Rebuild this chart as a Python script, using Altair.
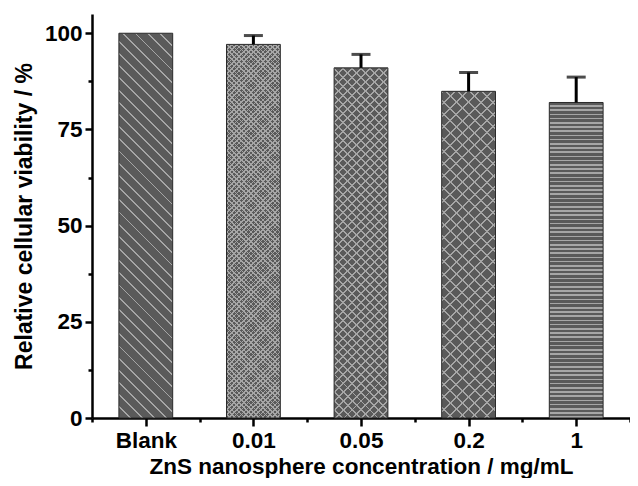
import math
import altair as alt
import pandas as pd

# ---- data ----
categories = ["Blank", "0.01", "0.05", "0.2", "1"]
viability = [100.0, 97.1, 91.0, 84.9, 82.0]
errors = [0.0, 2.3, 3.5, 4.9, 6.6]

# ---- layout / style ----
W, H = 538, 404
Y_MAX = 105
BAR_HALF = 0.25
BASE = "#5a5a5a"
LINE = "#a6a6a6"
CLEAR = "rgba(0,0,0,0)"
FONT = "Liberation Sans"

bar_w = 2 * BAR_HALF * W / len(categories)

df = pd.DataFrame({
    "cat": categories,
    "idx": list(range(1, len(categories) + 1)),
    "val": viability,
    "err": errors,
})
df["lo"] = df["idx"] - BAR_HALF
df["hi"] = df["idx"] + BAR_HALF
df["up"] = df["val"] + df["err"]


def stripe_stops(n, frac, color):
    stops = []
    for i in range(n):
        a = i / n
        b = (i + 1 - frac) / n
        c = (i + 1) / n
        stops += [
            {"offset": a, "color": CLEAR},
            {"offset": b, "color": CLEAR},
            {"offset": b, "color": color},
            {"offset": c, "color": color},
        ]
    return stops


def diag_grad(h, s, period, lw, color=LINE):
    w = bar_w
    k = w * h * (w + h) / (w * w + h * h)
    x1, y1 = (0.0, 1.0) if s == 1 else (1.0, 1.0)
    x2 = x1 + k * s / h
    y2 = y1 - k / w
    n = max(1, round((w + h) / (math.sqrt(2) * period)))
    real_p = (w + h) / (math.sqrt(2) * n)
    return {"gradient": "linear", "x1": x1, "y1": y1, "x2": x2, "y2": y2,
            "stops": stripe_stops(n, lw / real_p, color)}


def horiz_grad(h, period, lw, color=LINE):
    n = max(1, round(h / period))
    real_p = h / n
    return {"gradient": "linear", "x1": 0, "y1": 0, "x2": 0, "y2": 1,
            "stops": stripe_stops(n, lw / real_p, color)}


patterns = {
    "Blank": [("d", 1, 8.5, 1.3)],
    "0.01": [("d", 1, 3.4, 1.1), ("d", -1, 3.4, 1.1)],
    "0.05": [("d", 1, 6.3, 1.4), ("d", -1, 6.3, 1.4)],
    "0.2": [("d", 1, 8.8, 1.4), ("d", -1, 8.8, 1.4)],
    "1": [("h", 4.2, 1.6)],
}

xscale = alt.Scale(domain=[0.5, len(categories) + 0.5], nice=False, zero=False)
yscale = alt.Scale(domain=[0, Y_MAX], nice=False)

label_expr = " : ".join(
    f"datum.value == {i + 1} ? '{c}'" for i, c in enumerate(categories)
) + " : ''"

x_axis = alt.Axis(
    values=[0.5 + 0.5 * i for i in range(2 * len(categories) + 1)],
    labelExpr=label_expr,
    title="ZnS nanosphere concentration / mg/mL",
    tickSize={"condition": {"test": "datum.value % 1 == 0", "value": 8}, "value": 4},
    labelOverlap=False,
    labelFlush=False,
    labelPadding=3,
    titlePadding=4,
    titleFontSize=22.5,
    grid=False,
)
y_axis = alt.Axis(
    values=[12.5 * i for i in range(9)],
    labelExpr="datum.value % 25 == 0 ? datum.label : ''",
    title="Relative cellular viability / %",
    tickSize={"condition": {"test": "datum.value % 25 == 0", "value": 7}, "value": 4},
    labelOverlap=False,
    labelPadding=3,
    titlePadding=8,
    titleFontSize=23,
    grid=False,
)

x_enc = alt.X("lo:Q", scale=xscale, axis=x_axis)
y_enc = alt.Y("val:Q", scale=yscale, axis=y_axis)

base = alt.Chart(df).mark_bar(fill=BASE, strokeWidth=0).encode(
    x=x_enc, x2="hi:Q", y=y_enc, y2=alt.datum(0),
)

layers = [base]
for cat, pats in patterns.items():
    h = df.loc[df["cat"] == cat, "val"].iloc[0] * H / Y_MAX
    for p in pats:
        if p[0] == "d":
            grad = diag_grad(h, p[1], p[2], p[3])
        else:
            grad = horiz_grad(h, p[1], p[2])
        layers.append(
            alt.Chart(df).transform_filter(alt.datum.cat == cat)
            .mark_bar(fill=grad, strokeWidth=0)
            .encode(x="lo:Q", x2="hi:Q", y="val:Q", y2=alt.datum(0))
        )

outline = alt.Chart(df).mark_bar(fillOpacity=0, stroke="#2b2b2b", strokeWidth=1).encode(
    x="lo:Q", x2="hi:Q", y="val:Q", y2=alt.datum(0)
)
err_df = df[df["err"] > 0]
stem = alt.Chart(err_df).mark_rule(color="black", strokeWidth=3).encode(
    x="idx:Q", y="val:Q", y2="up:Q"
)
cap = alt.Chart(err_df).mark_tick(color="black", orient="horizontal", size=19, thickness=3).encode(
    x="idx:Q", y="up:Q"
)
layers += [outline, stem, cap]

chart = alt.layer(*layers).properties(
    width=W, height=H,
    autosize="none",
    padding={"left": 84, "top": 6, "right": 0, "bottom": 60},
).configure_view(stroke=None).configure_axis(
    domainColor="black", domainWidth=2.5, tickColor="black", tickWidth=2.5,
    labelFont=FONT, labelFontSize=22.5, labelFontWeight="bold", labelColor="black",
    titleFont=FONT, titleFontWeight="bold", titleColor="black",
)

chart.save("out.html", embed_options={"renderer": "svg", "actions": False})
